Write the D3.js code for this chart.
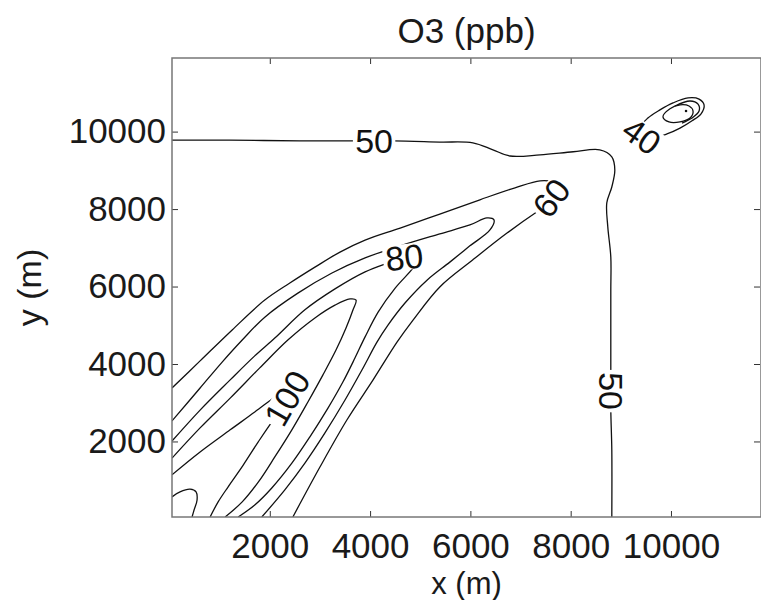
<!DOCTYPE html>
<html>
<head>
<meta charset="utf-8">
<script src="https://cdn.jsdelivr.net/npm/d3@7"></script>
<style>
  body { margin: 0; background: #fff; }
  svg { display: block; font-family: "Liberation Sans", Arial, Helvetica, sans-serif; }
</style>
</head>
<body>
<svg id="chart" width="761" height="600"></svg>
<script>
const xTicks = [2000, 4000, 6000, 8000, 10000];
const yTicks = [2000, 4000, 6000, 8000, 10000];

// contour lines, [x (m), y (m)]
const c50 = [[50,9780],[1200,9780],[2600,9760],[3700,9760],[4460,9760],[5390,9730],[6050,9710],[6450,9530],[6790,9370],[7390,9400],[8050,9480],[8580,9530],[8820,9350],[8880,9010],[8820,8570],[8720,8160],[8740,7540],[8800,6760],[8800,5910],[8800,4620],[8800,3720],[8800,2810],[8820,1780],[8820,50]];
const c60 = [[50,3380],[610,4080],[1250,4880],[1900,5650],[2400,6090],[2900,6500],[3400,6890],[3900,7200],[4600,7510],[5390,7870],[6190,8240],[6890,8550],[7390,8730],[7630,8700],[7750,8550],[7710,8310],[7550,8110],[7330,7930],[6730,7380],[6050,6690],[5390,5990],[4860,5140],[4540,4570],[4060,3590],[3540,2560],[3000,1340],[2460,50]];
const c70 = [[50,2530],[610,3380],[1050,4050],[1450,4620],[1900,5210],[2560,5830],[3240,6350],[3900,6740],[4600,7050],[5390,7360],[5990,7590],[6330,7770],[6470,7720],[6390,7460],[5990,7050],[5590,6630],[5140,6170],[4700,5580],[4360,5010],[4140,4570],[3840,3850],[3500,3070],[3100,2220],[2700,1440],[2300,750],[1840,50]];
const c80 = [[50,2010],[610,2810],[1210,3590],[1700,4210],[2100,4670],[2700,5400],[3300,5940],[3900,6380],[4400,6630],[4760,6790],[4960,6690],[4860,6480],[4500,5960],[4160,5340],[3900,4700],[3700,4160],[3460,3540],[3160,2860],[2800,2120],[2440,1440],[2040,800],[1700,360],[1370,50]];
const c90 = [[50,1570],[610,2350],[1210,3120],[1800,3900],[2360,4620],[2900,5190],[3300,5520],[3600,5680],[3720,5650],[3660,5400],[3520,4930],[3320,4360],[3060,3720],[2760,3020],[2440,2300],[2100,1600],[1770,950],[1450,440],[1110,50]];
const c100 = [[50,1140],[610,1730],[1210,2300],[1700,2760],[2100,3150],[2440,3460],[2560,3380],[2400,3020],[2200,2760],[2040,2500],[1770,1990],[1470,1390],[1170,830],[970,440],[810,50]];
const c110 = [[50,570],[210,700],[410,770],[530,700],[550,490],[490,230],[450,50]];
const c40 = [[9380,10090],[9540,10350],[9780,10560],[10040,10740],[10340,10870],[10560,10840],[10660,10690],[10600,10460],[10420,10280],[10180,10090],[9920,9940],[9680,9860],[9480,9910]];
const c40b = [[10080,10660],[10380,10790],[10540,10710],[10560,10530],[10420,10350],[10220,10220]];
const c30 = [[9840,10380],[9980,10590],[10180,10690],[10360,10660],[10440,10530],[10380,10350],[10180,10250],[9960,10250]];
const c20 = [[10300,10530]];

const openLines = [c50, c60, c70, c80, c90, c100, c110, c40b];
const closedLines = [c40, c30];

// contour labels: text, position [x, y] and rotation
const labelText = ["50", "50", "60", "80", "100", "40"];
const labelAt = [[4080,9760],[8800,3300],[7610,8290],[4680,6760],[2340,3120],[9420,9890]];
const labelAngle = [0, 90, -52, -6, -60, 35];

const width = 761, height = 600;
const margin = {top: 58, right: 0, bottom: 83, left: 172};

const svg = d3.select("#chart");

const x = d3.scaleLinear().domain([50, 11795]).range([margin.left, width - margin.right]);
const y = d3.scaleLinear().domain([50, 11900]).range([height - margin.bottom, margin.top]);

svg.append("defs").append("clipPath").attr("id", "plot")
  .append("rect")
  .attr("x", margin.left).attr("y", margin.top)
  .attr("width", width - margin.left - margin.right)
  .attr("height", height - margin.top - margin.bottom);

const g = svg.append("g").attr("clip-path", "url(#plot)");

const line = d3.line().x(d => x(d[0])).y(d => y(d[1])).curve(d3.curveCatmullRom.alpha(0.5));
const loop = d3.line().x(d => x(d[0])).y(d => y(d[1])).curve(d3.curveCatmullRomClosed.alpha(0.5));

g.selectAll("path.open")
  .data(openLines)
  .join("path")
  .attr("class", "open")
  .attr("d", line)
  .attr("fill", "none")
  .attr("stroke", "#111")
  .attr("stroke-width", 1.3);

g.selectAll("path.closed")
  .data(closedLines)
  .join("path")
  .attr("class", "closed")
  .attr("d", loop)
  .attr("fill", "none")
  .attr("stroke", "#111")
  .attr("stroke-width", 1.3);

g.selectAll("circle")
  .data(c20)
  .join("circle")
  .attr("cx", d => x(d[0]))
  .attr("cy", d => y(d[1]))
  .attr("r", 1.3)
  .attr("fill", "#111");

// labels break the line under them, as clabel does
const lab = g.selectAll("g.lab")
  .data(labelText)
  .join("g")
  .attr("class", "lab")
  .attr("transform", (d, i) => `translate(${x(labelAt[i][0])},${y(labelAt[i][1])}) rotate(${labelAngle[i]})`);

lab.append("rect")
  .attr("x", d => -d.length * 9.6 - 2)
  .attr("y", -13)
  .attr("width", d => d.length * 19.2 + 4)
  .attr("height", 26)
  .attr("fill", "#fff");

lab.append("text")
  .attr("text-anchor", "middle")
  .attr("dy", "0.36em")
  .attr("font-size", 34)
  .attr("fill", "#111")
  .text(d => d);

// box and ticks
const axisStyle = a => a.call(s => s.select(".domain").remove())
  .call(s => s.selectAll(".tick line").attr("stroke", "#333"))
  .call(s => s.selectAll(".tick text").attr("font-size", 35).attr("fill", "#1a1a1a")
    .attr("font-family", "Liberation Sans, Arial, sans-serif"));

svg.append("g")
  .attr("transform", `translate(0,${height - margin.bottom})`)
  .call(d3.axisBottom(x).tickValues(xTicks).tickSize(-6).tickPadding(16).tickFormat(d3.format("d")))
  .call(axisStyle);

svg.append("g")
  .attr("transform", `translate(${margin.left},0)`)
  .call(d3.axisLeft(y).tickValues(yTicks).tickSize(-6).tickPadding(6).tickFormat(d3.format("d")))
  .call(axisStyle);

svg.append("g")
  .attr("transform", `translate(0,${margin.top})`)
  .call(d3.axisTop(x).tickValues(xTicks).tickSize(-6).tickFormat(""))
  .call(axisStyle);

svg.append("g")
  .attr("transform", `translate(${width - margin.right - 1},0)`)
  .call(d3.axisRight(y).tickValues(yTicks).tickSize(-6).tickFormat(""))
  .call(axisStyle);

svg.append("rect")
  .attr("x", margin.left).attr("y", margin.top)
  .attr("width", width - margin.left - margin.right)
  .attr("height", height - margin.top - margin.bottom)
  .attr("fill", "none")
  .attr("stroke", "#777")
  .attr("stroke-width", 1.5);

// titles
svg.append("text")
  .attr("x", (margin.left + width) / 2)
  .attr("y", 43)
  .attr("text-anchor", "middle")
  .attr("font-size", 35)
  .attr("fill", "#1a1a1a")
  .text("O3 (ppb)");

svg.append("text")
  .attr("x", (margin.left + width) / 2)
  .attr("y", 594)
  .attr("text-anchor", "middle")
  .attr("font-size", 31)
  .attr("fill", "#1a1a1a")
  .text("x (m)");

svg.append("text")
  .attr("transform", `translate(41,${(margin.top + height - margin.bottom) / 2}) rotate(-90)`)
  .attr("text-anchor", "middle")
  .attr("font-size", 34)
  .attr("fill", "#1a1a1a")
  .text("y (m)");
</script>
</body>
</html>
